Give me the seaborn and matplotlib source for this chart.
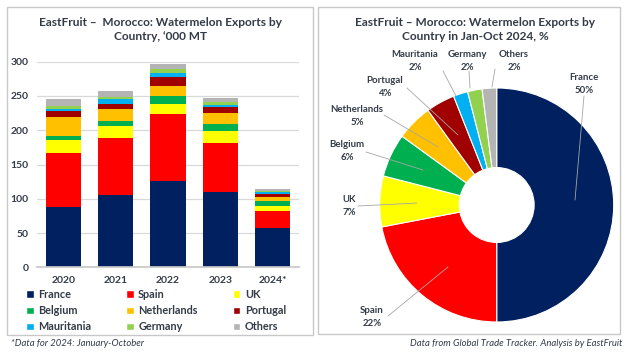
#!/usr/bin/env python3
"""Morocco watermelon exports: stacked bars by year plus 2024 country share donut."""

import matplotlib.pyplot as plt
import numpy as np
import pandas as pd
import seaborn as sns
from matplotlib.patches import Patch, Rectangle

YEARS = ["2020", "2021", "2022", "2023", "2024*"]
COUNTRIES = ["France", "Spain", "UK", "Belgium", "Netherlands", "Portugal",
             "Mauritania", "Germany", "Others"]

# '000 MT
FRANCE = [88, 106, 126, 110, 57]
SPAIN = [79, 82, 97, 72, 25]
UK = [19, 18, 16, 17, 8]
BELGIUM = [6, 8, 11, 10, 7]
NETHERLANDS = [28, 17, 14, 16, 6]
PORTUGAL = [8, 8, 14, 9, 4]
MAURITANIA = [3, 7, 6, 3, 2.5]
GERMANY = [4, 3, 6, 4, 2.5]
OTHERS = [10, 8, 6, 6, 2.5]

# Jan-Oct 2024 shares, %
SHARE_2024 = [50, 22, 7, 6, 5, 4, 2, 2, 2]

COLORS = ["#002060", "#FF0000", "#FFFF00", "#00B050", "#FFC000", "#A00000",
          "#00B0F0", "#92D050", "#B4B4B4"]
TEXT_COLOR = "#333B48"
FONT = ["Lato", "DejaVu Sans"]

W, H = 626, 352


def fx(px):
    return px / W


def fy(py):
    return 1 - py / H


sns.set_theme(style="white")
plt.rcParams["font.family"] = FONT
plt.rcParams["font.weight"] = "bold"

fig = plt.figure(figsize=(W / 100, H / 100), dpi=100)

# panel frames
for x0, y0, x1, y1 in [(7, 7, 313, 335), (318, 7, 620, 334)]:
    fig.add_artist(Rectangle((fx(x0), fy(y1)), fx(x1 - x0), (y1 - y0) / H,
                             transform=fig.transFigure, fill=False,
                             edgecolor="#C8C8C8", linewidth=1.0))

# ---- stacked bar chart ----
series = [FRANCE, SPAIN, UK, BELGIUM, NETHERLANDS, PORTUGAL, MAURITANIA, GERMANY, OTHERS]
df = pd.DataFrame({name: vals for name, vals in zip(COUNTRIES, series)}, index=YEARS)
df.index.name = "year"

ax = fig.add_axes([fx(37), fy(267.3), fx(262), 205.6 / H])
bottom = np.zeros(len(YEARS))
for name, color in zip(COUNTRIES, COLORS):
    sns.barplot(x=df.index, y=df[name].values, color=color, width=0.67,
                bottom=bottom, ax=ax, saturation=1, linewidth=0)
    bottom += df[name].values

ax.set_ylim(0, 300)
ax.set_xlim(-0.5, len(YEARS) - 0.5)
ax.set_yticks(range(0, 301, 50))
ax.yaxis.grid(True, color="#D9D9D9", linewidth=0.9)
ax.set_axisbelow(True)
for s in ["top", "right", "left"]:
    ax.spines[s].set_visible(False)
ax.spines["bottom"].set_color("#C8C8C8")
ax.set_xlabel("")
ax.set_ylabel("")
ax.tick_params(axis="both", labelsize=7.5, colors=TEXT_COLOR, length=0, pad=6)
for lab in ax.get_xticklabels() + ax.get_yticklabels():
    lab.set_fontweight("bold")
ax.set_xticks(np.arange(-0.5, len(YEARS)), minor=True)
ax.tick_params(axis="x", which="minor", length=4, color="#C8C8C8", direction="out")

fig.text(fx(160), fy(22), "EastFruit \u2013  Morocco: Watermelon Exports by",
         ha="center", va="center", fontsize=8.6, color=TEXT_COLOR, fontweight="bold")
fig.text(fx(160), fy(37), "Country, \u2018000 MT",
         ha="center", va="center", fontsize=8.6, color=TEXT_COLOR, fontweight="bold")

order = [0, 3, 6, 1, 4, 7, 2, 5, 8]
handles = [Patch(facecolor=COLORS[i], label=COUNTRIES[i]) for i in order]
leg = fig.legend(handles=handles, ncol=3, loc="upper left",
                 bbox_to_anchor=(fx(26), fy(289)), frameon=False, fontsize=7.8,
                 handlelength=0.7, handleheight=0.7, handletextpad=0.4,
                 columnspacing=3.25, labelspacing=0.48, labelcolor=TEXT_COLOR,
                 borderpad=0, borderaxespad=0,
                 prop={"family": FONT, "weight": "bold", "size": 7.8})

fig.text(fx(11), fy(343), "*Data for 2024: January-October", ha="left", va="center",
         fontsize=6.8, style="italic", fontweight="normal", color=TEXT_COLOR)
fig.text(fx(622), fy(343), "Data from Global Trade Tracker. Analysis by EastFruit",
         ha="right", va="center", fontsize=6.8, style="italic", fontweight="normal",
         color=TEXT_COLOR)

# ---- donut ----
CX, CY, R = 496.7, 205.0, 117.0
pl, pr, pt, pb = 330, 620, 45, 335
pax = fig.add_axes([fx(pl), fy(pb), fx(pr - pl), (pb - pt) / H])
pax.pie(SHARE_2024, colors=COLORS, startangle=90, counterclock=False,
        wedgeprops=dict(width=0.68, edgecolor="white", linewidth=0.8))
pax.set_xlim((pl - CX) / R, (pr - CX) / R)
pax.set_ylim((CY - pb) / R, (CY - pt) / R)
pax.set_aspect("equal")


def to_data(px, py):
    return (px - CX) / R, (CY - py) / R


# label text position, line start, line end (pixels)
LABEL_POS = [
    ((584, 84), (584, 96), (575, 200)),
    ((372, 317), (388, 316), (448, 267)),
    ((349, 206), (358, 206), (417, 203)),
    ((347, 151), (366, 152), (423, 170)),
    ((357, 116), (384, 115), (438, 147)),
    ((385, 87), (407, 88), (458, 135)),
    ((415, 61), (443, 71), (456, 96)),
    ((467, 61), (469, 71), (470, 88)),
    ((514, 61), (495, 69), (492, 87)),
]
for name, share, (tpos, lstart, lend) in zip(COUNTRIES, SHARE_2024, LABEL_POS):
    pax.plot(*zip(to_data(*lstart), to_data(*lend)), color="#A6A6A6",
             linewidth=0.6, clip_on=False)
    tx, ty = to_data(*tpos)
    pax.text(tx, ty, f"{name}\n{share}%", ha="center", va="center", fontsize=6.9,
             color=TEXT_COLOR, linespacing=1.5, fontweight="bold")

fig.text(fx(475), fy(22), "EastFruit \u2013 Morocco: Watermelon Exports by",
         ha="center", va="center", fontsize=8.6, color=TEXT_COLOR, fontweight="bold")
fig.text(fx(475), fy(36), "Country in Jan-Oct 2024, %",
         ha="center", va="center", fontsize=8.6, color=TEXT_COLOR, fontweight="bold")

fig.savefig("out.png", dpi=100, facecolor="white")
